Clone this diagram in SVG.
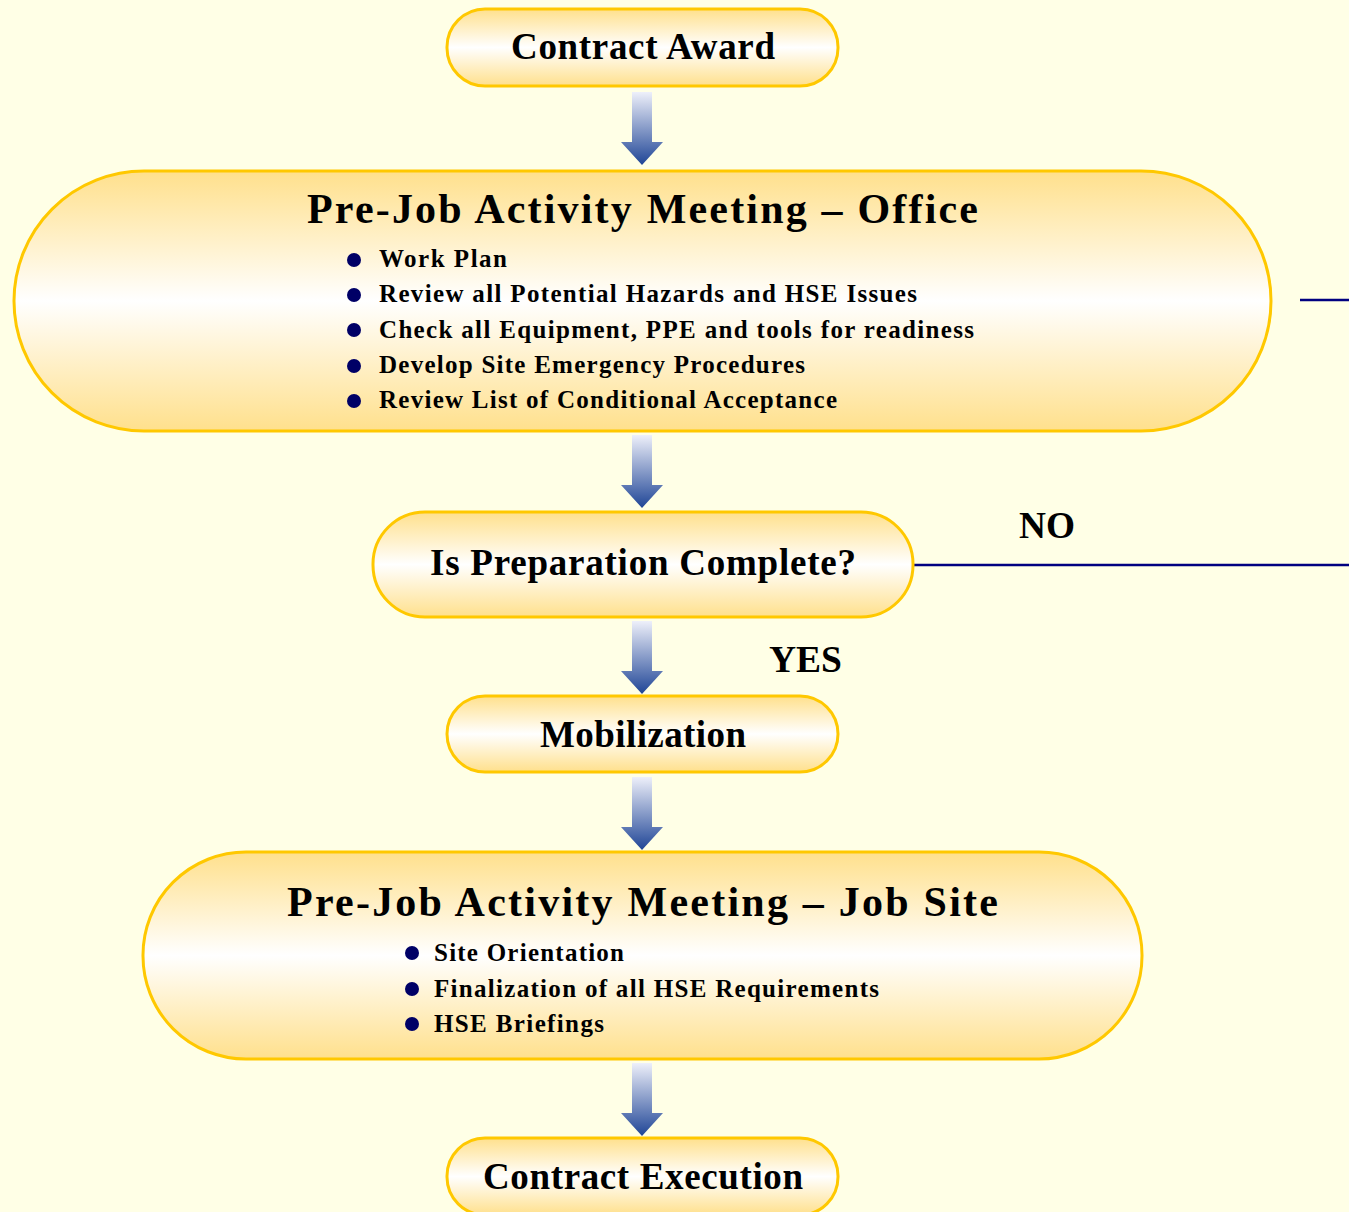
<svg xmlns="http://www.w3.org/2000/svg" width="1349" height="1212" viewBox="0 0 1349 1212">
<defs>
<linearGradient id="pill" x1="0" y1="0" x2="0" y2="1">
<stop offset="0" stop-color="#FFE08C"/>
<stop offset="0.5" stop-color="#FFFFFF"/>
<stop offset="1" stop-color="#FFE08C"/>
</linearGradient>
<linearGradient id="arr" x1="0" y1="0" x2="0" y2="1">
<stop offset="0" stop-color="#EEF0FA"/>
<stop offset="1" stop-color="#1F4596"/>
</linearGradient>
<path id="dn" d="M-10,0 H10 V50 H21 L0,73 L-21,50 H-10 Z"/>
</defs>
<style>
.p{fill:url(#pill);stroke:#FFC800;stroke-width:3}
.t{font-family:"Liberation Serif","Times New Roman",serif;font-weight:bold;fill:#000}
.s{font-size:37px}
.h{font-size:42px}
.i{font-size:25px}
.b{fill:#000066}
.ln{stroke:#000080;stroke-width:2.5;fill:none}
.a{fill:url(#arr)}
</style>
<rect width="1349" height="1212" fill="#FFFFE6"/>
<g id="connectors">
<use href="#dn" class="a" x="642" y="92"/>
<use href="#dn" class="a" x="642" y="435"/>
<use href="#dn" class="a" x="642" y="621"/>
<use href="#dn" class="a" x="642" y="777"/>
<use href="#dn" class="a" x="642" y="1063"/>
<line class="ln" x1="913" y1="565" x2="1349" y2="565"/>
<line class="ln" x1="1300" y1="300" x2="1349" y2="300"/>
<text class="t s" x="1019" y="538" textLength="56" lengthAdjust="spacingAndGlyphs">NO</text>
<text class="t s" x="769" y="672" textLength="73" lengthAdjust="spacingAndGlyphs">YES</text>
</g>
<g id="contract-award">
<rect class="p" x="447" y="9" width="391" height="77" rx="38"/>
<text class="t s" x="511" y="59" textLength="264" lengthAdjust="spacing">Contract Award</text>
</g>
<g id="office-meeting">
<rect class="p" x="14" y="171" width="1257" height="260" rx="130"/>
<text class="t h" x="307" y="223" textLength="671" lengthAdjust="spacing">Pre-Job Activity Meeting – Office</text>
<circle class="b" cx="354" cy="260" r="7"/>
<circle class="b" cx="354" cy="295" r="7"/>
<circle class="b" cx="354" cy="330" r="7"/>
<circle class="b" cx="354" cy="366" r="7"/>
<circle class="b" cx="354" cy="401" r="7"/>
<text class="t i" x="379" y="267" textLength="128" lengthAdjust="spacing">Work Plan</text>
<text class="t i" x="379" y="302" textLength="538" lengthAdjust="spacing">Review all Potential Hazards and HSE Issues</text>
<text class="t i" x="379" y="338" textLength="595" lengthAdjust="spacing">Check all Equipment, PPE and tools for readiness</text>
<text class="t i" x="379" y="373" textLength="426" lengthAdjust="spacing">Develop Site Emergency Procedures</text>
<text class="t i" x="379" y="408" textLength="458" lengthAdjust="spacing">Review List of Conditional Acceptance</text>
</g>
<g id="decision">
<rect class="p" x="373" y="512" width="540" height="105" rx="52"/>
<text class="t s" x="430" y="575" textLength="426" lengthAdjust="spacing">Is Preparation Complete?</text>
</g>
<g id="mobilization">
<rect class="p" x="447" y="696" width="391" height="76" rx="38"/>
<text class="t s" x="540" y="747" textLength="206" lengthAdjust="spacing">Mobilization</text>
</g>
<g id="jobsite-meeting">
<rect class="p" x="143" y="852" width="999" height="207" rx="103"/>
<text class="t h" x="287" y="916" textLength="711" lengthAdjust="spacing">Pre-Job Activity Meeting – Job Site</text>
<circle class="b" cx="412" cy="953" r="7"/>
<circle class="b" cx="412" cy="989" r="7"/>
<circle class="b" cx="412" cy="1024" r="7"/>
<text class="t i" x="434" y="961" textLength="190" lengthAdjust="spacing">Site Orientation</text>
<text class="t i" x="434" y="997" textLength="445" lengthAdjust="spacing">Finalization of all HSE Requirements</text>
<text class="t i" x="434" y="1032" textLength="170" lengthAdjust="spacing">HSE Briefings</text>
</g>
<g id="contract-execution">
<rect class="p" x="447" y="1138" width="391" height="77" rx="38"/>
<text class="t s" x="483" y="1189" textLength="320" lengthAdjust="spacing">Contract Execution</text>
</g>
</svg>
